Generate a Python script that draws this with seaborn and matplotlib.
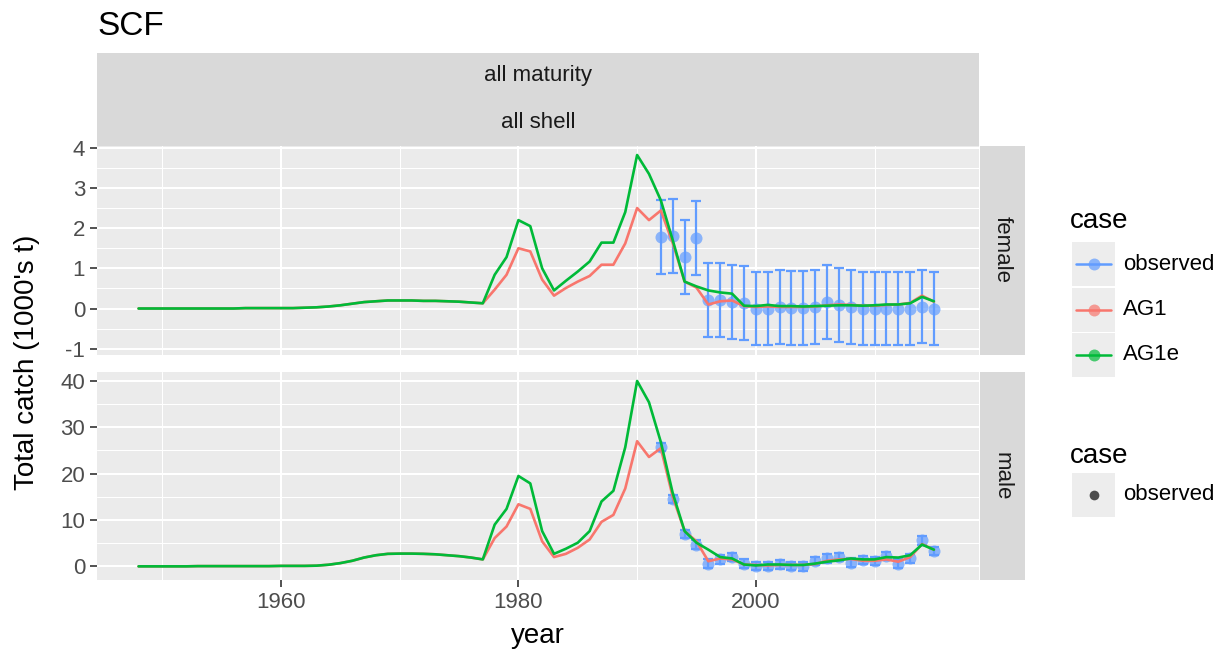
import numpy as np
import pandas as pd
import seaborn as sns
import matplotlib.pyplot as plt
from matplotlib.patches import Rectangle
from matplotlib.lines import Line2D
from matplotlib.ticker import MultipleLocator

# data (1000's t)
years = list(range(1948, 2016))
obs_years = list(range(1992, 2016))

female_ag1 = [0.00, 0.00, 0.00, 0.00, 0.00, 0.00, 0.00, 0.00, 0.00, 0.01, 0.01, 0.01,
              0.01, 0.01, 0.02, 0.03, 0.05, 0.08, 0.12, 0.16, 0.18, 0.20, 0.20, 0.20,
              0.19, 0.19, 0.18, 0.17, 0.15, 0.13, 0.47, 0.84, 1.50, 1.42, 0.72, 0.32,
              0.51, 0.67, 0.81, 1.09, 1.09, 1.62, 2.50, 2.20, 2.44, 1.63, 0.67, 0.52,
              0.10, 0.18, 0.20, 0.06, 0.04, 0.05, 0.04, 0.04, 0.04, 0.05, 0.08, 0.10,
              0.09, 0.07, 0.07, 0.09, 0.10, 0.14, 0.32, 0.17]
female_ag1e = [0.00, 0.00, 0.00, 0.00, 0.00, 0.00, 0.00, 0.00, 0.00, 0.01, 0.01, 0.01,
               0.01, 0.01, 0.02, 0.03, 0.05, 0.08, 0.12, 0.16, 0.18, 0.20, 0.20, 0.20,
               0.19, 0.19, 0.18, 0.17, 0.15, 0.13, 0.84, 1.28, 2.20, 2.05, 1.00, 0.45,
               0.69, 0.92, 1.17, 1.64, 1.64, 2.40, 3.82, 3.35, 2.69, 1.70, 0.67, 0.55,
               0.45, 0.40, 0.37, 0.07, 0.06, 0.09, 0.06, 0.06, 0.05, 0.06, 0.07, 0.08,
               0.08, 0.07, 0.08, 0.10, 0.10, 0.13, 0.29, 0.18]
male_ag1 = [0.0, 0.0, 0.0, 0.0, 0.0, 0.05, 0.05, 0.05, 0.05, 0.05, 0.05, 0.05,
            0.1, 0.1, 0.1, 0.15, 0.35, 0.7, 1.2, 1.9, 2.4, 2.7, 2.75, 2.75,
            2.7, 2.6, 2.4, 2.2, 1.9, 1.5, 6.1, 8.6, 13.4, 12.4, 5.4, 2.0,
            2.7, 4.0, 5.8, 9.6, 11.1, 16.8, 27.0, 23.6, 25.5, 15.0, 7.6, 5.4,
            1.1, 1.7, 1.5, 0.4, 0.3, 0.2, 0.3, 0.3, 0.3, 0.5, 1.2, 1.5,
            1.6, 1.2, 1.2, 1.5, 1.0, 2.0, 4.8, 3.6]
male_ag1e = [0.0, 0.0, 0.0, 0.0, 0.0, 0.05, 0.05, 0.05, 0.05, 0.05, 0.05, 0.05,
             0.1, 0.1, 0.1, 0.15, 0.35, 0.7, 1.2, 1.9, 2.4, 2.7, 2.75, 2.75,
             2.7, 2.6, 2.4, 2.2, 1.9, 1.5, 9.0, 12.4, 19.5, 17.9, 7.6, 2.7,
             3.8, 5.1, 7.6, 14.0, 16.3, 25.7, 40.0, 35.4, 26.8, 15.8, 7.6, 5.1,
             3.6, 2.0, 1.7, 0.4, 0.2, 0.4, 0.4, 0.3, 0.3, 0.6, 1.0, 1.3,
             1.7, 1.5, 1.5, 2.0, 1.9, 2.4, 4.7, 3.6]

female_obs = [1.77, 1.80, 1.28, 1.76, 0.21, 0.22, 0.17, 0.14, 0.00, 0.00, 0.04, 0.02,
              0.02, 0.04, 0.16, 0.09, 0.04, 0.00, 0.00, 0.00, 0.00, 0.00, 0.05, 0.00]
female_obs_err = [0.92, 0.92, 0.92, 0.92, 0.92, 0.92, 0.92, 0.92, 0.92, 0.92, 0.92, 0.92,
                  0.92, 0.92, 0.92, 0.92, 0.92, 0.92, 0.92, 0.92, 0.92, 0.92, 0.92, 0.92]
male_obs = [25.7, 14.5, 7.0, 4.7, 0.6, 1.5, 2.0, 0.6, 0.1, 0.1, 0.4, 0.1,
            0.0, 1.1, 1.7, 2.0, 0.8, 1.3, 1.2, 2.2, 0.6, 1.7, 5.6, 3.3]
male_obs_err = [0.9, 0.9, 0.9, 0.9, 0.9, 0.9, 0.9, 0.9, 0.9, 0.9, 0.9, 0.9,
                0.9, 0.9, 0.9, 0.9, 0.9, 0.9, 0.9, 0.9, 0.9, 0.9, 0.9, 0.9]

cases = ["observed", "AG1", "AG1e"]
colors = {"observed": "#619CFF", "AG1": "#F8766D", "AG1e": "#00BA38"}

model = pd.DataFrame({
    "year": years * 4,
    "catch": female_ag1 + female_ag1e + male_ag1 + male_ag1e,
    "case": ["AG1"] * len(years) + ["AG1e"] * len(years) + ["AG1"] * len(years) + ["AG1e"] * len(years),
    "sex": ["female"] * (2 * len(years)) + ["male"] * (2 * len(years)),
})
obs = pd.DataFrame({
    "year": obs_years * 2,
    "catch": female_obs + male_obs,
    "err": female_obs_err + male_obs_err,
    "sex": ["female"] * len(obs_years) + ["male"] * len(obs_years),
})

sns.set_theme(style="darkgrid", rc={
    "axes.facecolor": "#EBEBEB",
    "grid.color": "white",
    "figure.facecolor": "white",
    "axes.unicode_minus": False,
})
plt.rcParams["font.family"] = ["Liberation Sans", "DejaVu Sans"]

W, H = 1228, 658
fig = plt.figure(figsize=(W / 100, H / 100), dpi=100)


def rect(x0, y0, x1, y1):
    return [x0 / W, 1 - y1 / H, (x1 - x0) / W, (y1 - y0) / H]


ax_f = fig.add_axes(rect(97, 145.5, 979, 355))
ax_m = fig.add_axes(rect(97, 371.5, 979, 580))

for ax, sex, ystep in [(ax_f, "female", 1), (ax_m, "male", 10)]:
    o = obs[obs["sex"] == sex]
    sns.scatterplot(data=o, x="year", y="catch", color=colors["observed"], alpha=0.7,
                    s=75, linewidth=0, ax=ax, zorder=2, legend=False)
    ax.errorbar(o["year"], o["catch"], yerr=o["err"], fmt="none", ecolor=colors["observed"],
                elinewidth=1.6, capsize=3.5, capthick=1.6, zorder=2.5)
    sns.lineplot(data=model[model["sex"] == sex], x="year", y="catch", hue="case",
                 hue_order=["AG1", "AG1e"], palette=colors, linewidth=1.9,
                 ax=ax, legend=False, zorder=3)
    ax.margins(x=0.05, y=0.05)
    # errorbar width widens the x range a little, as ggplot does
    ax.set_xlim(1944.5, 2018.8)
    ax.xaxis.set_major_locator(MultipleLocator(20))
    ax.xaxis.set_minor_locator(MultipleLocator(10))
    ax.yaxis.set_major_locator(MultipleLocator(ystep))
    ax.yaxis.set_minor_locator(MultipleLocator(ystep / 2))
    ax.grid(which="major", color="white", linewidth=1.5)
    ax.grid(which="minor", color="white", linewidth=0.75)
    ax.set_xlabel("")
    ax.set_ylabel("")
    for s in ax.spines.values():
        s.set_visible(False)
    ax.tick_params(axis="y", which="major", left=True, length=5, width=1.2, color="#333333",
                   labelsize=16, labelcolor="#4D4D4D", pad=3.5)
    ax.tick_params(axis="x", which="major", bottom=True, length=5, width=1.2, color="#333333",
                   labelsize=16, labelcolor="#4D4D4D", pad=4)
    ax.tick_params(which="minor", left=False, bottom=False)

ax_f.tick_params(axis="x", bottom=False, labelbottom=False)

# strips, titles and legends drawn on a pixel overlay
over = fig.add_axes([0, 0, 1, 1], facecolor="none")
over.set_xlim(0, W)
over.set_ylim(H, 0)
over.axis("off")

strip_fill = "#D9D9D9"
strip_txt = "#1A1A1A"
over.add_patch(Rectangle((97, 53), 882, 92.5, color=strip_fill, lw=0))
over.text(538, 76, "all maturity", fontsize=16, color=strip_txt, ha="center", va="center")
over.text(538, 122, "all shell", fontsize=16, color=strip_txt, ha="center", va="center")
over.add_patch(Rectangle((979.5, 145.5), 45.5, 209.5, color=strip_fill, lw=0))
over.add_patch(Rectangle((979.5, 371.5), 45.5, 208.5, color=strip_fill, lw=0))
over.text(1002, 250, "female", fontsize=16, color=strip_txt, ha="center", va="center", rotation=-90)
over.text(1002, 476, "male", fontsize=16, color=strip_txt, ha="center", va="center", rotation=-90)

over.text(97, 35, "SCF", fontsize=24, color="black", ha="left", va="baseline")
over.text(538, 643, "year", fontsize=20, color="black", ha="center", va="baseline")
over.text(27, 362, "Total catch (1000's t)", fontsize=20, color="black", ha="center",
          va="center", rotation=90)

key_fill = "#EDEDED"
over.text(1070, 228, "case", fontsize=20, color="black", ha="left", va="baseline")
for i, c in enumerate(cases):
    y0 = 242 + i * 45.5
    over.add_patch(Rectangle((1072, y0), 43, 44, color=key_fill, lw=0))
    yc = y0 + 22
    over.add_line(Line2D([1076, 1111], [yc, yc], color=colors[c], lw=1.8))
    over.add_line(Line2D([1093.5], [yc], marker="o", markersize=8.6, color=colors[c],
                         alpha=0.7, markeredgewidth=0))
    over.text(1123, yc, c, fontsize=16, color="black", ha="left", va="center")

over.text(1070, 463, "case", fontsize=20, color="black", ha="left", va="baseline")
over.add_patch(Rectangle((1072, 473), 43, 44, color=key_fill, lw=0))
over.add_line(Line2D([1093.5], [495], marker="o", markersize=7, color="#4D4D4D",
                     markeredgewidth=0))
over.text(1123, 495, "observed", fontsize=16, color="black", ha="left", va="center")

fig.savefig("out.png", dpi=100)
